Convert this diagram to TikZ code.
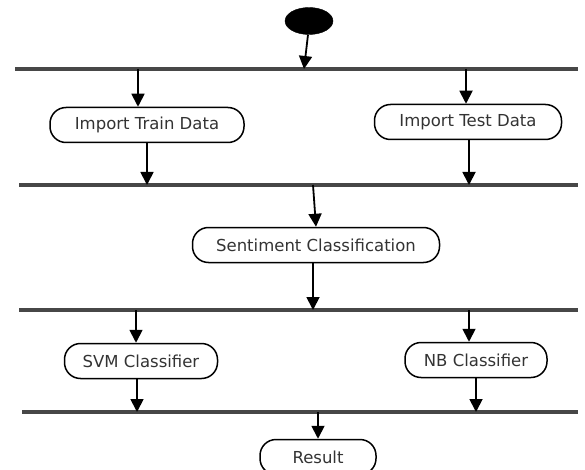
\documentclass[tikz,border=0pt]{standalone}
\usepackage{fontspec}
\setmainfont{DejaVu Sans}
\usetikzlibrary{arrows.meta,shapes.geometric}
\tikzset{
  activity/.style={draw=black, line width=1.5pt, rounded corners=16pt, fill=white,
    font=\fontsize{16.5}{19}\selectfont, text=black!80, inner sep=0pt, minimum height=35pt},
  flow/.style={line width=1.8pt, -{Triangle[length=13pt,width=13pt]}},
  syncbar/.style={line width=3.2pt, draw=black!72},
  startnode/.style={ellipse, fill=black, draw=black, inner sep=0pt,
    minimum width=48pt, minimum height=27pt}
}
\begin{document}
\begin{tikzpicture}[x=1pt,y=-1pt]
\useasboundingbox (0,0) rectangle (585,470);
\clip (0,0) rectangle (585,470);

% initial state
\node[startnode] (start) at (309,21) {};

% fork / join bars
\coordinate (f1w) at (15,69);  \coordinate (f1e) at (578,69);
\coordinate (j1w) at (19,185); \coordinate (j1e) at (578,185);
\coordinate (f2w) at (19,310); \coordinate (f2e) at (578,310);
\coordinate (j2w) at (22,412); \coordinate (j2e) at (578,412);
\draw[syncbar] (f1w) -- (f1e);
\draw[syncbar] (j1w) -- (j1e);
\draw[syncbar] (f2w) -- (f2e);
\draw[syncbar] (j2w) -- (j2e);

% activities
\node[activity, minimum width=194pt] (train) at (147,125) {Import Train Data};
\node[activity, minimum width=187pt] (test)  at (468,122) {Import Test Data};
\node[activity, minimum width=247pt] (senti) at (316,245) {Sentiment Classification};
\node[activity, minimum width=153pt] (svm)   at (141,361) {SVM Classifier};
\node[activity, minimum width=142pt] (nb)    at (476,360) {NB Classifier};
\node[activity, minimum width=116pt] (res)   at (318,457) {Result};

% points where the flows meet the bars
\coordinate (f1in)  at (304,69);
\coordinate (f1a)   at (138,69);
\coordinate (f1b)   at (466,69);
\coordinate (j1a)   at (147,185);
\coordinate (j1b)   at (469,185);
\coordinate (j1out) at (313,185);
\coordinate (f2in)  at (313,310);
\coordinate (f2a)   at (136,310);
\coordinate (f2b)   at (469,310);
\coordinate (j2a)   at (137,412);
\coordinate (j2b)   at (476,412);
\coordinate (j2out) at (318,412);

% control flows
\draw[flow] (start.south) ++(-1,0) -- (f1in);
\draw[flow] (f1a) -- (f1a |- train.north);
\draw[flow] (f1b) -- (f1b |- test.north);
\draw[flow] (j1a |- train.south) -- (j1a);
\draw[flow] (j1b |- test.south) -- (j1b);
\draw[flow] (j1out) -- (senti.north);
\draw[flow] (f2in |- senti.south) -- (f2in);
\draw[flow] (f2a) -- (f2a |- svm.north);
\draw[flow] (f2b) -- (f2b |- nb.north);
\draw[flow] (j2a |- svm.south) -- (j2a);
\draw[flow] (j2b |- nb.south) -- (j2b);
\draw[flow] (j2out) -- (res.north);
\end{tikzpicture}
\end{document}
